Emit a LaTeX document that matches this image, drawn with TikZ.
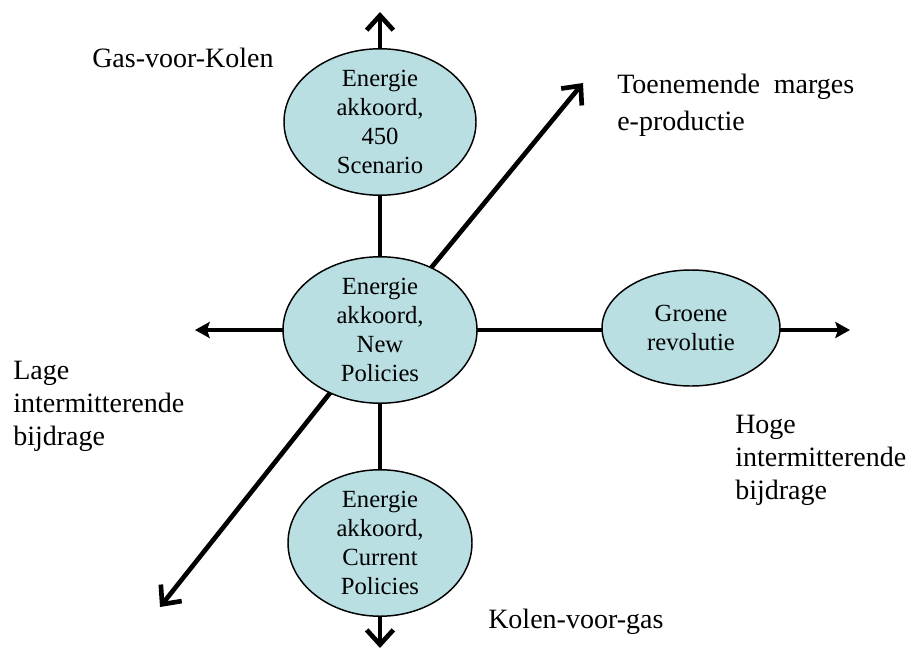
\documentclass[tikz,border=0pt]{standalone}
\usepackage{fontspec}
\setmainfont{Liberation Serif}
\usetikzlibrary{shapes.geometric,arrows.meta,backgrounds}
\definecolor{ellfill}{RGB}{185,223,227}
\begin{document}
\begin{tikzpicture}[x=0.75pt,y=-0.75pt,
  scen/.style={ellipse,draw=black,line width=1.1pt,fill=ellfill,inner sep=0pt,align=center,
    font=\fontsize{18.5}{21.75}\selectfont},
  axisopen/.style={line width=3.5pt,-{Straight Barb[length=11pt,width=20pt]}},
  axisfill/.style={line width=3.5pt,-{Stealth[length=11pt,width=12pt,inset=2pt]}},
  lbl/.style={inner sep=0pt,anchor=base west,align=left,font=\fontsize{21}{24.75}\selectfont}]
\useasboundingbox (0,0) rectangle (914,650);
% scenario ellipses
\node[scen,minimum width=144pt,minimum height=97.5pt] (top) at (380,122) {Energie\\akkoord,\\450\\Scenario};
\node[scen,minimum width=145.5pt,minimum height=90pt] (mid) at (380,330) {Energie\\akkoord,\\New\\Policies};
\node[scen,minimum width=138pt,minimum height=94.5pt] (bot) at (380,543) {Energie\\akkoord,\\Current\\Policies};
\node[scen,minimum width=133.5pt,minimum height=87pt] (grn) at (691,328) {Groene\\revolutie};
% arrow tips
\coordinate (tipN) at (380,12);
\coordinate (tipS) at (380,648);
\coordinate (tipW) at (195,330);
\coordinate (tipE) at (850,330);
\coordinate (tipNE) at (583,83);
\coordinate (tipSW) at (160,607);
\begin{scope}[on background layer]
  \draw[axisopen] (mid.center) -- (tipN);
  \draw[axisopen] (mid.center) -- (tipS);
  \draw[axisopen] (mid.center) -- (tipNE);
  \draw[axisopen] (mid.center) -- (tipSW);
  \draw[axisfill] (mid.center) -- (tipW);
  \draw[axisfill] (mid.center) -- (tipE);
\end{scope}
% labels (anchored at the baseline of their last line)
\node[lbl] (gvk) at (92,67) {Gas-voor-Kolen};
\node[lbl,font=\fontsize{21}{27.5}\selectfont] (toe) at (617,130) {Toenemende\ \ marges\\e-productie};
\node[lbl] (lage) at (13,445) {Lage\\intermitterende\\bijdrage};
\node[lbl] (hoge) at (735,499) {Hoge\\intermitterende\\bijdrage};
\node[lbl] (kvg) at (488,628) {Kolen-voor-gas};
\end{tikzpicture}
\end{document}
